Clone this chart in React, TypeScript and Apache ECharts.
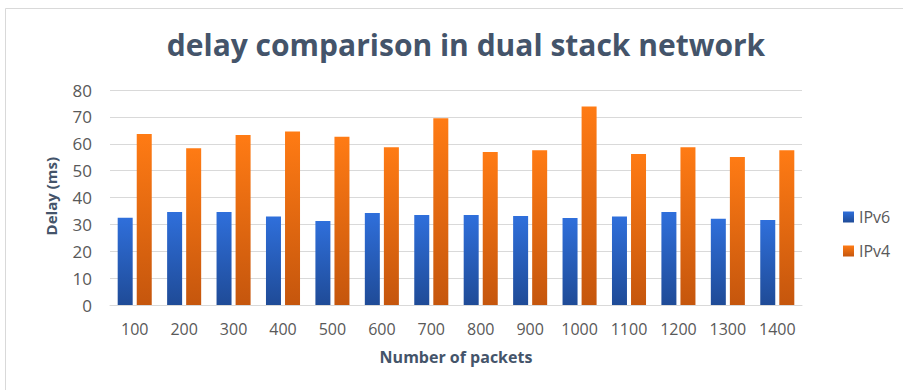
import React, { useEffect, useRef } from "react";
import * as echarts from "echarts";

const categories = ["100", "200", "300", "400", "500", "600", "700", "800", "900", "1000", "1100", "1200", "1300", "1400"];
const ipv6 = [32.5, 34.6, 34.6, 32.9, 31.3, 34.2, 33.5, 33.5, 33.1, 32.4, 32.9, 34.6, 32.1, 31.6];
const ipv4 = [63.6, 58.3, 63.3, 64.6, 62.6, 58.7, 69.5, 56.9, 57.6, 73.9, 56.2, 58.7, 55.1, 57.6];
const yTicks = { min: 0, max: 80, interval: 10 };
const yAxisTitle = "Delay (ms)";

const FONT = "'Open Sans', 'Noto Sans', sans-serif";

export default function App() {
  const ref = useRef<HTMLDivElement>(null);
  useEffect(() => {
    document.body.style.margin = "0";
    const chart = echarts.init(ref.current!, null, { renderer: "svg" });
    const grad = (top: string, bottom: string) =>
      new echarts.graphic.LinearGradient(0, 0, 0, 1, [
        { offset: 0, color: top },
        { offset: 1, color: bottom },
      ]);
    chart.setOption({
      animation: false,
      backgroundColor: "#ffffff",
      title: {
        text: "delay comparison in dual stack network",
        left: 461,
        textAlign: "center",
        top: 24,
        textStyle: { fontFamily: FONT, fontWeight: "bold", fontSize: 30, color: "#44546A" },
      },
      graphic: [
        {
          type: "rect",
          shape: { x: 5.5, y: 8.5, width: 905, height: 390 },
          style: { fill: "none", stroke: "#D9D9D9", lineWidth: 1 },
          silent: true,
        },
        {
          type: "text",
          left: 43,
          top: 157,
          rotation: Math.PI / 2,
          silent: true,
          style: {
            text: yAxisTitle,
            align: "center",
            verticalAlign: "middle",
            fontFamily: FONT,
            fontWeight: "bold",
            fontSize: 15,
            fill: "#44546A",
          },
        },
      ],
      legend: {
        orient: "vertical",
        left: 838,
        top: 204,
        itemWidth: 11,
        itemHeight: 11,
        itemGap: 18,
        icon: "rect",
        textStyle: { fontFamily: FONT, fontSize: 16, color: "#595959" },
        data: ["IPv6", "IPv4"],
      },
      grid: { left: 110, right: 101, top: 90, bottom: 85 },
      xAxis: {
        type: "category",
        data: categories,
        name: "Number of packets",
        nameLocation: "middle",
        nameGap: 44,
        nameTextStyle: { fontFamily: FONT, fontWeight: "bold", fontSize: 16, color: "#44546A" },
        axisLine: { lineStyle: { color: "#D9D9D9" } },
        axisTick: { show: false },
        axisLabel: { fontFamily: FONT, fontSize: 16, color: "#595959", margin: 16 },
      },
      yAxis: {
        type: "value",
        min: yTicks.min,
        max: yTicks.max,
        interval: yTicks.interval,
        axisLine: { show: false },
        axisTick: { show: false },
        axisLabel: { fontFamily: FONT, fontSize: 17, color: "#595959", margin: 18 },
        splitLine: { lineStyle: { color: "#D9D9D9", width: 1 } },
      },
      series: [
        {
          name: "IPv6",
          type: "bar",
          data: ipv6,
          barWidth: 15,
          barGap: "27%",
          itemStyle: { color: grad("#2F6FDB", "#1F4B97") },
        },
        {
          name: "IPv4",
          type: "bar",
          data: ipv4,
          barWidth: 15,
          barGap: "27%",
          itemStyle: { color: grad("#FF7B14", "#C5560D") },
        },
      ],
    });
    return () => chart.dispose();
  }, []);
  return <div ref={ref} style={{ width: 903, height: 390 }} />;
}
